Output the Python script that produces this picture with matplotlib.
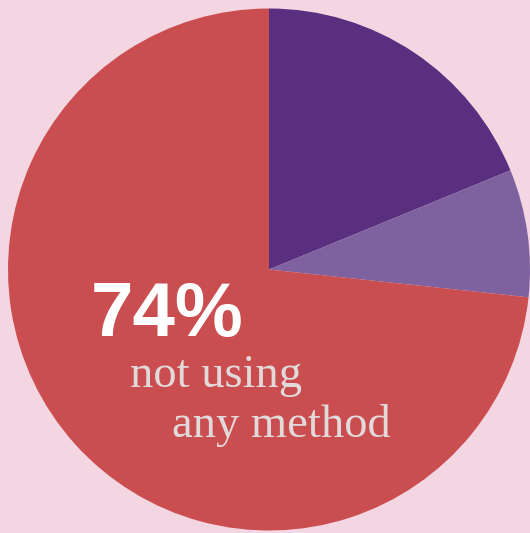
import matplotlib
matplotlib.use("Agg")
import matplotlib.pyplot as plt

# slice shares (clockwise from 12 o'clock)
labels = ["method A", "method B", "not using any method"]
shares = [18.8, 7.9, 73.3]
colors = ["#5a2f7f", "#7e62a0", "#ca4e50"]
big_label = "74%"
sub_label = ["not using", "any method"]

bg = "#f4d6e3"
W, H = 530, 533
cx, cy, r = 269, 269.5, 261


def px(x, y):
    # pixel coords -> data coords of the pie
    return (x - cx) / r, (cy - y) / r


fig = plt.figure(figsize=(W / 100, H / 100), dpi=100, facecolor=bg)
ax = fig.add_axes([0, 0, 1, 1])
ax.set_facecolor(bg)

ax.pie(shares, colors=colors, startangle=90, counterclock=False,
       wedgeprops=dict(linewidth=0))

ax.set_xlim(-cx / r, (W - cx) / r)
ax.set_ylim(-(H - cy) / r, cy / r)
ax.axis("off")

x, y = px(91, 336)
ax.text(x, y, big_label, color="white", fontsize=55, fontweight="bold",
        family="Liberation Sans", ha="left", va="baseline")

x, y = px(130, 387)
ax.text(x, y, sub_label[0], color="#e2dada", fontsize=33.5,
        family="Liberation Serif", ha="left", va="baseline")
x, y = px(172, 437)
ax.text(x, y, sub_label[1], color="#e2dada", fontsize=33.5,
        family="Liberation Serif", ha="left", va="baseline")

fig.savefig("out.png", dpi=100, facecolor=bg)
